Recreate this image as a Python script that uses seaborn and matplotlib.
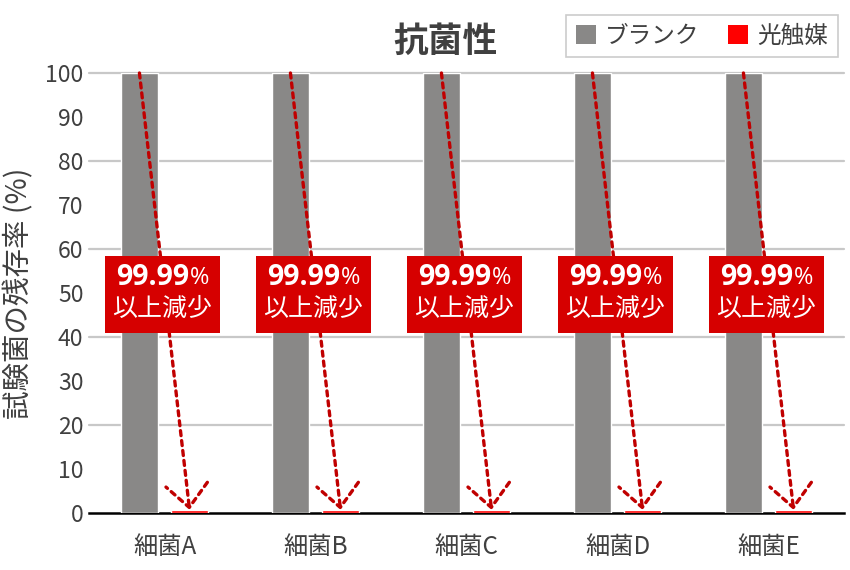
import matplotlib
matplotlib.use("Agg")
import matplotlib.pyplot as plt
import seaborn as sns
import pandas as pd
from matplotlib.patches import Rectangle, Patch

categories = ["細菌A", "細菌B", "細菌C", "細菌D", "細菌E"]
series_names = ["ブランク", "光触媒"]
blank_values = [100, 100, 100, 100, 100]
photo_values = [0.7, 0.7, 0.7, 0.7, 0.7]
yticks = [0, 10, 20, 30, 40, 50, 60, 70, 80, 90, 100]
box_main = "99.99"
box_pct = "%"
box_sub = "以上減少"
title = "抗菌性"
ylabel = "試験菌の残存率 (%)"

colors = ["#898887", "#FF0000"]
arrow_color = "#C00000"
box_color = "#D60000"
text_color = "#404040"

df = pd.DataFrame({
    "cat": categories * 2,
    "val": blank_values + photo_values,
    "series": [series_names[0]] * 5 + [series_names[1]] * 5,
})

sns.set_theme(style="white")
plt.rcParams["font.family"] = ["Noto Sans CJK JP", "DejaVu Sans"]

fig = plt.figure(figsize=(8.5, 5.7), dpi=100)
ax = fig.add_axes([89 / 850, 57 / 570, 755 / 850, 440 / 570])

sns.barplot(data=df, x="cat", y="val", hue="series", palette=colors,
            width=0.662, gap=0.25, ax=ax, legend=False, saturation=1,
            errorbar=None, zorder=2)

ax.set_ylim(0, 100)
ax.set_xlim(-0.5, 4.5)
ax.set_yticks(yticks)
ax.set_yticklabels([str(t) for t in yticks], fontsize=16.5, color=text_color)
ax.tick_params(axis="x", labelsize=17.5, colors=text_color, length=0, pad=15)
ax.tick_params(axis="y", length=0, pad=4)
for t in ax.get_xticklabels():
    t.set_color(text_color)
    t.set_fontsize(17.5)
ax.set_xlabel("")
ax.set_ylabel(ylabel, fontsize=20.5, color=text_color)
ax.yaxis.set_label_coords((34 - 89) / 755, 0.5)

for g in [20, 40, 60, 80, 100]:
    ax.axhline(g, color="#c8c8c8", lw=1.6, zorder=0, clip_on=False)

for s in ["top", "right", "left"]:
    ax.spines[s].set_visible(False)
ax.spines["bottom"].set_color("black")
ax.spines["bottom"].set_linewidth(1.8)
ax.spines["bottom"].set_zorder(1.5)

off = 0.166
for i in range(len(categories)):
    ax.annotate("", xy=(i + off, photo_values[i]), xytext=(i - off, blank_values[i]),
                arrowprops=dict(arrowstyle="->,head_length=1.65,head_width=1.5",
                                mutation_scale=10, color=arrow_color, lw=2.4,
                                linestyle=(0, (1.5, 1.5)), shrinkA=0, shrinkB=0),
                zorder=4, annotation_clip=False)
    ax.add_patch(Rectangle((i - 0.395, 41.0), 0.76, 17.5, facecolor=box_color,
                           edgecolor="none", zorder=5))
    ax.text(i + 0.165, 53.5, box_main, ha="right", va="center", fontsize=20.5,
            fontweight="bold", color="white", zorder=6, family="Open Sans")
    ax.text(i + 0.165, 53.3, box_pct, ha="left", va="center", fontsize=17,
            color="white", zorder=6, family="Open Sans")
    ax.text(i - 0.015, 46.3, box_sub, ha="center", va="center", fontsize=18,
            color="white", zorder=6)

fig.text(445 / 850, 1 - 41 / 570, title, ha="center", va="center", fontsize=25,
         fontweight="bold", color=text_color)

handles = [Patch(facecolor=c, edgecolor="none") for c in colors]
leg = ax.legend(handles, series_names, loc="center", ncol=2,
                bbox_to_anchor=(702 / 850, 1 - 36 / 570), bbox_transform=fig.transFigure,
                frameon=True, fancybox=False, edgecolor="#bfbfbf", fontsize=17,
                handlelength=0.85, handleheight=0.85, handletextpad=0.4, columnspacing=1.2,
                borderpad=0.4)
for t in leg.get_texts():
    t.set_color(text_color)
leg.get_frame().set_linewidth(1.2)

fig.savefig("out.png", dpi=100)
